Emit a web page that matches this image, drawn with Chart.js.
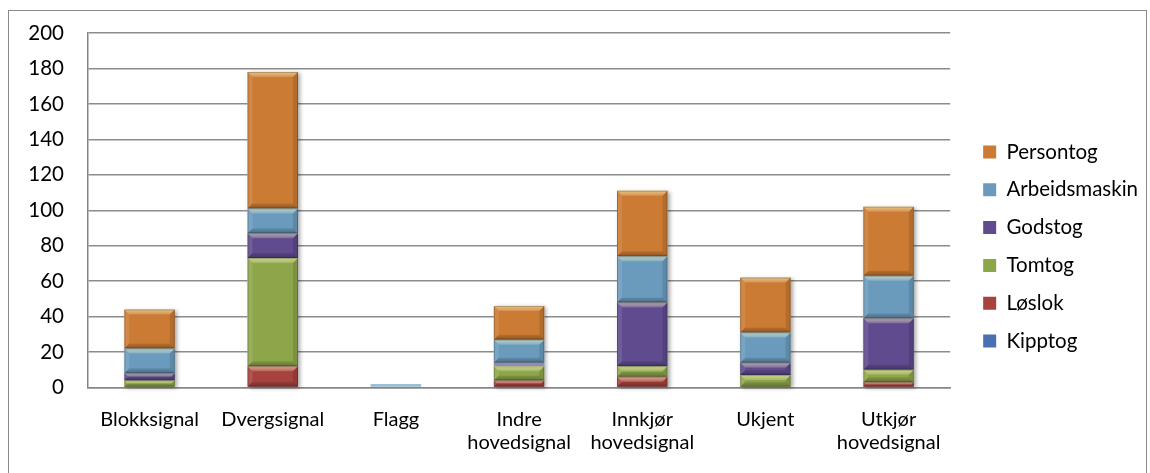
<!DOCTYPE html>
<html>
<head>
<meta charset="utf-8">
<script src="https://cdn.jsdelivr.net/npm/chart.js@4/dist/chart.umd.min.js"></script>
<style>
  html, body { margin: 0; padding: 0; background: #fff; }
  body { width: 1150px; height: 473px; overflow: hidden; position: relative; }
  #frame { position: absolute; left: 8px; top: 10px; width: 1139px; height: 480px; border: 1px solid #8a8a8a; box-sizing: border-box; }
  #wrap { position: absolute; left: 0; top: 0; width: 1150px; height: 473px; }
</style>
</head>
<body>
<div id="frame"></div>
<div id="wrap"><canvas id="c"></canvas></div>
<script>
// Signal types along the x axis
const categories = [
  'Blokksignal',
  'Dvergsignal',
  'Flagg',
  ['Indre', 'hovedsignal'],
  ['Innkjør', 'hovedsignal'],
  'Ukjent',
  ['Utkjør', 'hovedsignal']
];

// Counts per train type, stacked bottom to top
const kipptog       = [0, 0, 0, 0, 0, 0, 0];
const loslok        = [0, 12, 0, 4, 6, 0, 3];
const tomtog        = [4, 61, 0, 8, 6, 7, 7];
const godstog       = [4, 14, 0, 2, 36, 7, 29];
const arbeidsmaskin = [14, 14, 2, 13, 26, 17, 24];
const persontog     = [22, 77, 0, 19, 37, 31, 39];

const yTicks = [0, 20, 40, 60, 80, 100, 120, 140, 160, 180, 200];

const seriesNames = ['Kipptog', 'Løslok', 'Tomtog', 'Godstog', 'Arbeidsmaskin', 'Persontog'];
const seriesData = [kipptog, loslok, tomtog, godstog, arbeidsmaskin, persontog];
const seriesColors = ['#4a6fb3', '#a8423f', '#8ea64a', '#5f4b8e', '#6a9bbd', '#cb7b33'];

// Soft drop shadow under every stacked column
const columnShadow = {
  id: 'columnShadow',
  beforeDatasetsDraw(chart) {
    const ctx = chart.ctx;
    const metas = chart.getSortedVisibleDatasetMetas();
    const n = chart.data.labels.length;
    ctx.save();
    for (let i = 0; i < n; i++) {
      let top = Infinity, bottom = -Infinity, left = 0, width = 0, any = false;
      metas.forEach(m => {
        const el = m.data[i];
        if (!el) return;
        const p = el.getProps(['x', 'y', 'base', 'width'], true);
        if (Math.abs(p.base - p.y) < 0.5) return;
        any = true;
        top = Math.min(top, p.y, p.base);
        bottom = Math.max(bottom, p.y, p.base);
        left = p.x - p.width / 2;
        width = p.width;
      });
      if (!any || bottom - top < 4) continue;
      ctx.shadowColor = 'rgba(0,0,0,0.35)';
      ctx.shadowBlur = 4;
      ctx.shadowOffsetX = 2;
      ctx.shadowOffsetY = 1;
      ctx.fillStyle = '#ffffff';
      ctx.fillRect(left, top, width, bottom - top);
    }
    ctx.restore();
  }
};

// Bevelled edges on each bar segment
const bevel = {
  id: 'bevel',
  afterDatasetsDraw(chart) {
    const ctx = chart.ctx;
    ctx.save();
    chart.getSortedVisibleDatasetMetas().forEach(m => {
      m.data.forEach(el => {
        const p = el.getProps(['x', 'y', 'base', 'width'], true);
        const l = p.x - p.width / 2, r = p.x + p.width / 2;
        const t = Math.min(p.y, p.base), b = Math.max(p.y, p.base);
        const h = b - t, w = r - l;
        if (h < 0.5) return;
        if (h < 4) {
          // very thin segments: just a pale wash
          ctx.fillStyle = 'rgba(255,255,255,0.35)';
          ctx.fillRect(l, t, w, h);
          return;
        }
        const k = Math.min(5, h / 2, w / 2);
        const quad = (pts, style) => {
          ctx.beginPath();
          ctx.moveTo(pts[0][0], pts[0][1]);
          for (let j = 1; j < pts.length; j++) ctx.lineTo(pts[j][0], pts[j][1]);
          ctx.closePath();
          ctx.fillStyle = style;
          ctx.fill();
        };
        // top highlight
        const gT = ctx.createLinearGradient(0, t, 0, t + k);
        gT.addColorStop(0, 'rgba(255,255,200,0.55)');
        gT.addColorStop(1, 'rgba(255,255,220,0.18)');
        quad([[l, t], [r, t], [r - k, t + k], [l + k, t + k]], gT);
        // left edge
        quad([[l, t], [l + k, t + k], [l + k, b - k], [l, b]], 'rgba(255,255,255,0.10)');
        // right edge
        quad([[r, t], [r - k, t + k], [r - k, b - k], [r, b]], 'rgba(0,0,0,0.12)');
        // bottom edge
        const gB = ctx.createLinearGradient(0, b - k, 0, b);
        gB.addColorStop(0, 'rgba(0,0,0,0.10)');
        gB.addColorStop(1, 'rgba(0,0,0,0.30)');
        quad([[l, b], [r, b], [r - k, b - k], [l + k, b - k]], gB);
        ctx.strokeStyle = 'rgba(0,0,0,0.22)';
        ctx.lineWidth = 1;
        ctx.strokeRect(l + 0.5, t + 0.5, w - 1, h - 1);
      });
    });
    ctx.restore();
  }
};

const datasets = seriesNames.map((name, i) => ({
  label: name,
  data: seriesData[i],
  backgroundColor: seriesColors[i],
  borderWidth: 0,
  barPercentage: 0.41,
  categoryPercentage: 1.0,
  stack: 'total'
}));

new Chart(document.getElementById('c'), {
  type: 'bar',
  data: { labels: categories, datasets },
  plugins: [columnShadow, bevel],
  options: {
    responsive: true,
    maintainAspectRatio: false,
    animation: false,
    layout: { padding: { top: 33, right: 2, bottom: 13, left: 0 } },
    plugins: {
      tooltip: { enabled: false },
      legend: {
        position: 'right',
        reverse: true,
        labels: {
          color: '#000',
          font: { family: 'Lato', size: 20.5 },
          boxWidth: 13,
          boxHeight: 13,
          padding: 17.3
        }
      }
    },
    scales: {
      x: {
        stacked: true,
        offset: true,
        grid: { display: false, drawTicks: false },
        border: { display: true, color: '#868686', width: 1.5 },
        ticks: {
          color: '#000',
          font: { family: 'Lato', size: 20, lineHeight: 1.15 },
          padding: 21,
          maxRotation: 0,
          autoSkip: false
        },
        afterFit(s) { s.height = 72.5; }
      },
      y: {
        stacked: true,
        min: 0,
        max: 200,
        afterBuildTicks(s) { s.ticks = yTicks.map(v => ({ value: v })); },
        grid: { color: '#8c8c8c', lineWidth: 1.5, drawTicks: true, tickLength: 20, tickColor: 'rgba(0,0,0,0)' },
        border: { display: true, color: '#868686', width: 1.5 },
        ticks: {
          color: '#000',
          font: { family: 'Lato', size: 20.5 },
          padding: 4
        },
        afterFit(s) { s.width = 88; }
      },
      y2: {
        position: 'right',
        display: true,
        grid: { display: false, drawTicks: false },
        border: { display: false },
        ticks: { display: false },
        afterFit(s) { s.width = 15.7; }
      }
    }
  }
});
</script>
</body>
</html>
